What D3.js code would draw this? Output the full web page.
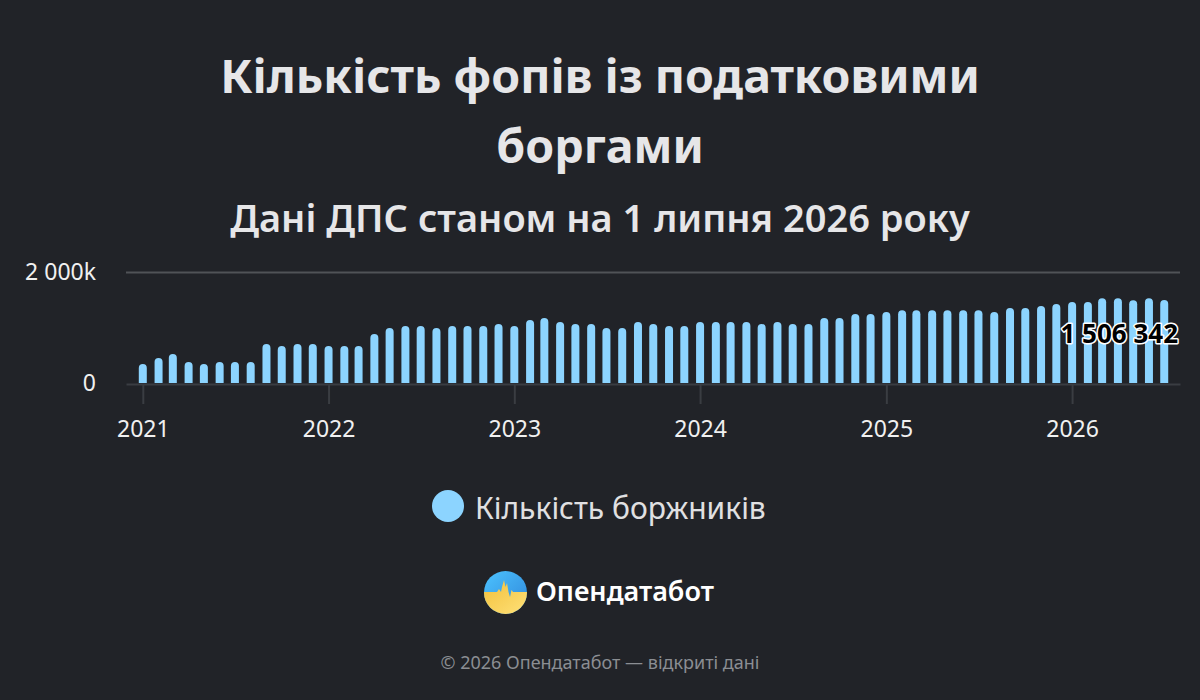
<!DOCTYPE html>
<html>
<head>
<meta charset="utf-8">
<script src="https://cdn.jsdelivr.net/npm/d3@7"></script>
<style>
  html, body { margin: 0; padding: 0; background: #212328; }
  svg { display: block; font-family: "Noto Sans", "Open Sans", sans-serif; }
</style>
</head>
<body>
<svg width="1200" height="700"></svg>
<script>
// monthly values, Jan 2021 .. Jul 2026 (first day of month)
const months = d3.timeMonths(new Date(2021, 0, 1), new Date(2026, 7, 1));
const debtors = [
  358000, 466000, 537000, 394000, 358000, 394000, 394000, 394000, 716000, 681000, 716000, 716000,
  681000, 681000, 681000, 896000, 1003000, 1039000, 1039000, 1003000, 1039000, 1039000, 1039000, 1075000,
  1039000, 1146000, 1182000, 1110000, 1075000, 1075000, 1003000, 1003000, 1110000, 1075000, 1039000, 1039000,
  1110000, 1110000, 1110000, 1110000, 1075000, 1110000, 1075000, 1075000, 1182000, 1182000, 1254000, 1254000,
  1290000, 1325000, 1325000, 1325000, 1325000, 1325000, 1325000, 1290000, 1361000, 1361000, 1397000, 1433000,
  1469000, 1469000, 1540000, 1540000, 1504000, 1540000, 1506342
];
const yTicks = [0, 2000000];
const yearTicks = [2021, 2022, 2023, 2024, 2025, 2026];

const titleLines = ["Кількість фопів із податковими", "боргами"];
const subtitle = "Дані ДПС станом на 1 липня 2026 року";
const seriesName = "Кількість боржників";
const brand = "Опендатабот";
const footer = "© 2026 Опендатабот — відкриті дані";

const data = months.map((m, i) => ({ date: m, value: debtors[i] }));

const svg = d3.select("svg");
const plot = { left: 126, right: 1180, top: 272.5, bottom: 384 };

const x = d3.scaleTime()
  .domain([new Date(2020, 10, 29), new Date(2026, 7, 1)])
  .range([plot.left, plot.right]);
const y = d3.scaleLinear()
  .domain([0, 2000000])
  .range([plot.bottom, plot.top]);

// titles
svg.append("g").selectAll("text")
  .data(titleLines)
  .join("text")
  .attr("x", 600)
  .attr("y", (d, i) => 93 + i * 70)
  .attr("text-anchor", "middle")
  .attr("fill", "#e6e6e8")
  .style("font-size", "46.5px")
  .style("font-weight", 700)
  .text(d => d);

svg.append("text")
  .attr("x", 600)
  .attr("y", 232)
  .attr("text-anchor", "middle")
  .attr("fill", "#e6e6e8")
  .style("font-size", "38px")
  .style("font-weight", 600)
  .text(subtitle);

// grid + y labels
svg.append("g").selectAll("line")
  .data(yTicks.filter(d => d > 0))
  .join("line")
  .attr("x1", plot.left).attr("x2", plot.right)
  .attr("y1", d => y(d)).attr("y2", d => y(d))
  .attr("stroke", "#505357")
  .attr("stroke-width", 2);

svg.append("g").selectAll("text")
  .data(yTicks)
  .join("text")
  .attr("x", 96)
  .attr("y", d => y(d) + 7)
  .attr("text-anchor", "end")
  .attr("fill", "#f0f0f0")
  .style("font-size", "23px")
  .text(d => d === 0 ? "0" : d3.format(",")(d / 1000).replace(/,/g, " ") + "k");

// x axis
const xAxis = d3.axisBottom(x)
  .tickValues(yearTicks.map(yr => new Date(yr, 0, 1)))
  .tickFormat(d3.timeFormat("%Y"))
  .tickSize(20)
  .tickSizeOuter(0)
  .tickPadding(17);

const gx = svg.append("g")
  .attr("transform", `translate(0,${plot.bottom})`)
  .call(xAxis);
gx.select(".domain").attr("stroke", "#3a3d42").attr("stroke-width", 2);
gx.selectAll(".tick line").attr("stroke", "#3a3d42").attr("stroke-width", 2);
gx.selectAll(".tick text")
  .attr("fill", "#f0f0f0")
  .style("font-size", "23px")
  .style("font-family", "'Noto Sans', sans-serif");

// bars
const barW = 8;
svg.append("g").selectAll("path")
  .data(data)
  .join("path")
  .attr("fill", "#8cd4ff")
  .attr("d", d => {
    const cx = x(d.date), top = y(d.value), r = barW / 2;
    const l = cx - r, rr = cx + r, b = plot.bottom - 1;
    return `M${l},${b}V${top + r}A${r},${r} 0 0 1 ${rr},${top + r}V${b}Z`;
  });

// last value label
const last = data[data.length - 1];
svg.append("text")
  .attr("x", plot.right - 2)
  .attr("y", y(last.value) + 43)
  .attr("text-anchor", "end")
  .attr("fill", "#000")
  .attr("stroke", "#fff")
  .attr("stroke-width", 3)
  .attr("paint-order", "stroke")
  .attr("stroke-linejoin", "round")
  .style("font-size", "26px")
  .style("font-weight", 700)
  .text(d3.format(",")(last.value).replace(/,/g, " "));

// legend
svg.append("circle")
  .attr("cx", 448).attr("cy", 506).attr("r", 16)
  .attr("fill", "#8cd4ff");
svg.append("text")
  .attr("x", 475).attr("y", 519)
  .attr("fill", "#e0e0e2")
  .style("font-size", "30px")
  .text(seriesName);

// logo
const defs = svg.append("defs");
const gBlue = defs.append("linearGradient").attr("id", "logoBlue")
  .attr("x1", 0).attr("y1", 0).attr("x2", 1).attr("y2", 1);
gBlue.append("stop").attr("offset", "0%").attr("stop-color", "#4cc3ff");
gBlue.append("stop").attr("offset", "100%").attr("stop-color", "#2f86d9");
const gYel = defs.append("linearGradient").attr("id", "logoYellow")
  .attr("x1", 0).attr("y1", 0).attr("x2", 1).attr("y2", 1);
gYel.append("stop").attr("offset", "0%").attr("stop-color", "#f2bf3a");
gYel.append("stop").attr("offset", "100%").attr("stop-color", "#ffe27a");
defs.append("clipPath").attr("id", "logoClip")
  .append("circle").attr("cx", 505.5).attr("cy", 592.5).attr("r", 21.5);

const logo = svg.append("g").attr("clip-path", "url(#logoClip)");
logo.append("rect").attr("x", 484).attr("y", 571).attr("width", 43).attr("height", 43)
  .attr("fill", "url(#logoBlue)");
logo.append("path")
  .attr("fill", "url(#logoYellow)")
  .attr("d", "M483,592 L497,592 L499,589 L501,592 L502,587 L504,580 L505.5,587 L507,583 L508.5,592 L510,597 L511.5,590 L513,592 L528,592 L528,615 L483,615 Z");

svg.append("text")
  .attr("x", 536).attr("y", 601)
  .attr("fill", "#ffffff")
  .style("font-size", "27px")
  .style("font-weight", 600)
  .text(brand);

// footer
svg.append("text")
  .attr("x", 600).attr("y", 669)
  .attr("text-anchor", "middle")
  .attr("fill", "#8b8e93")
  .style("font-size", "18px")
  .text(footer);
</script>
</body>
</html>
